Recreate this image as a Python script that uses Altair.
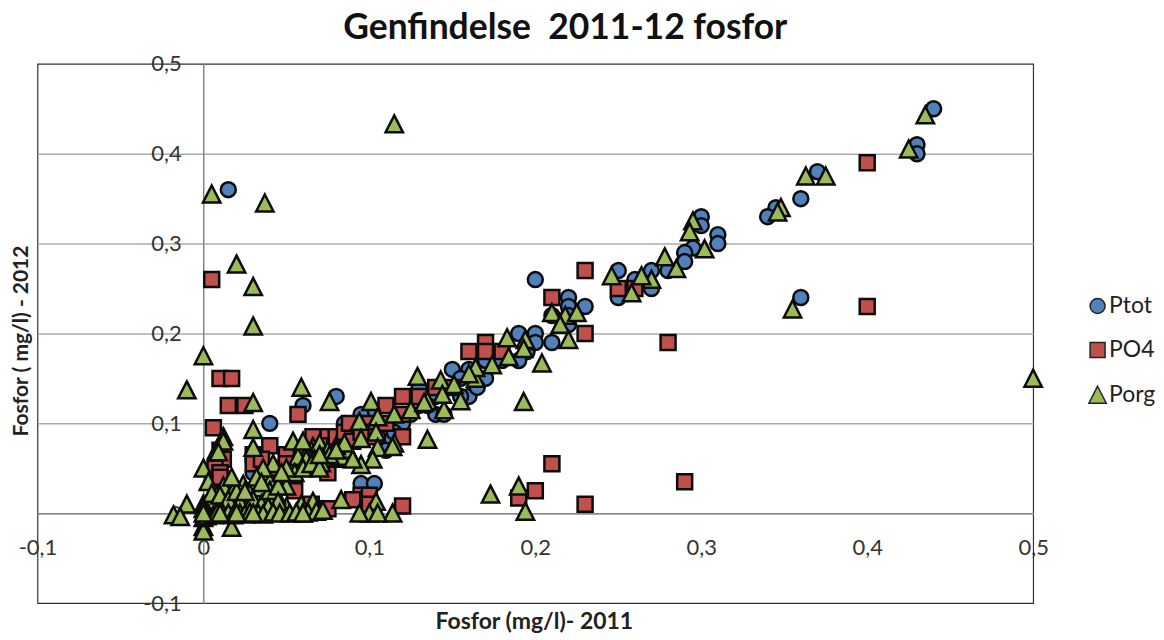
import altair as alt
import pandas as pd

ptot = [(0.44,0.45),(0.43,0.41),(0.43,0.40),(0.37,0.38),(0.36,0.35),(0.345,0.34),(0.34,0.33),(0.36,0.24),
(0.30,0.33),(0.30,0.32),(0.295,0.295),(0.31,0.31),(0.31,0.30),(0.29,0.29),(0.29,0.28),(0.28,0.27),(0.27,0.27),
(0.27,0.25),(0.26,0.25),(0.25,0.27),(0.25,0.24),(0.26,0.26),(0.20,0.26),(0.22,0.24),(0.22,0.23),(0.23,0.23),
(0.21,0.19),(0.22,0.22),(0.22,0.21),(0.21,0.22),(0.20,0.20),(0.19,0.20),(0.195,0.18),(0.19,0.17),(0.20,0.19),
(0.18,0.18),(0.17,0.15),(0.16,0.16),(0.15,0.16),(0.16,0.13),(0.155,0.13),(0.14,0.11),(0.145,0.11),(0.15,0.14),
(0.13,0.14),(0.13,0.12),(0.12,0.09),(0.12,0.10),(0.11,0.08),(0.11,0.07),(0.10,0.11),(0.095,0.11),(0.09,0.10),
(0.085,0.10),(0.08,0.13),(0.06,0.12),(0.04,0.10),(0.015,0.36),(0.095,0.033),(0.103,0.033),(0.03,0.045),
(0.10,0.09),(0.09,0.08),(0.08,0.07),(0.07,0.06),(0.06,0.05),(0.05,0.04),(0.14,0.13),(0.17,0.17),(0.18,0.17),
(0.155,0.15),(0.165,0.14),(0.135,0.12),(0.125,0.11),(0.115,0.09),(0.105,0.085)]

po4 = [(0.40,0.39),(0.40,0.23),(0.005,0.26),(0.23,0.27),(0.21,0.24),(0.23,0.20),(0.25,0.25),(0.26,0.25),
(0.28,0.19),(0.29,0.035),(0.23,0.01),(0.21,0.055),(0.20,0.025),(0.19,0.017),(0.01,0.15),(0.017,0.15),
(0.015,0.12),(0.025,0.12),(0.006,0.095),(0.16,0.18),(0.17,0.19),(0.17,0.18),(0.18,0.18),(0.15,0.14),(0.14,0.14),
(0.13,0.13),(0.12,0.13),(0.12,0.11),(0.11,0.12),(0.11,0.10),(0.12,0.085),(0.10,0.10),(0.09,0.095),(0.095,0.02),
(0.10,0.02),(0.12,0.008),(0.075,0.005),(0.075,0.045),(0.057,0.11),(0.04,0.075),(0.03,0.065),(0.03,0.055),
(0.04,0.05),(0.05,0.065),(0.06,0.07),(0.07,0.085),(0.075,0.085),(0.08,0.085),(0.085,0.09),(0.09,0.08),
(0.05,0.055),(0.06,0.06),(0.035,0.06),(0.01,0.07),(0.012,0.06),(0.007,0.05),(0.01,0.045),(0.01,0.04),
(0.07,0.075),(0.055,0.025),(0.065,0.01),(0.09,0.015),(0.10,0.01),(0.07,0.05),(0.08,0.06),(0.10,0.085),
(0.066,0.085),(0.088,0.1),(0.095,0.09)]

porg = [(0.115,0.433),(0.005,0.355),(0.037,0.345),(0.02,0.277),(0.03,0.252),(0.03,0.208),(0.0,0.175),(-0.01,0.137),
(0.03,0.123),(0.03,0.093),(0.012,0.085),(0.008,0.07),(0.435,0.443),(0.425,0.405),(0.375,0.375),(0.363,0.375),
(0.348,0.34),(0.346,0.335),(0.355,0.227),(0.5,0.15),(0.295,0.325),(0.293,0.313),(0.302,0.294),(0.285,0.272),
(0.278,0.285),(0.27,0.26),(0.264,0.264),(0.258,0.245),(0.246,0.264),(0.21,0.223),(0.218,0.22),(0.225,0.223),
(0.215,0.21),(0.22,0.193),(0.204,0.167),(0.193,0.124),(0.183,0.195),(0.194,0.193),(0.193,0.183),(0.184,0.174),
(0.129,0.152),(0.143,0.148),(0.151,0.143),(0.164,0.15),(0.174,0.165),(0.164,0.162),(0.16,0.155),(0.173,0.021),
(0.19,0.03),(0.194,0.002),(0.135,0.082),(0.145,0.115),(0.125,0.115),(0.135,0.125),(0.144,0.132),(0.155,0.125),
(0.115,0.11),(0.115,0.078),(0.059,0.14),(0.076,0.124),(0.101,0.124),(0.094,0.102),(0.105,0.107),(0.133,0.123),
(0.104,0.09),(0.095,0.083),(0.105,0.073),(0.114,0.074),(0.102,0.06),(0.095,0.054),(0.083,0.063),(0.087,0.071),
(0.083,0.015),(0.104,0.013),(0.10,0.0),(0.094,0.0),(0.114,0.0),(0.105,0.0),(0.054,0.08),(0.066,0.074),
(0.06,0.075),(0.065,0.07),(0.07,0.078),(0.075,0.07),(0.08,0.075),(0.085,0.078),(0.062,0.066),(0.072,0.062),
(0.057,0.063),(0.062,0.06),(0.067,0.06),(0.071,0.056),(0.076,0.065),(0.049,0.045),(0.059,0.01),(0.066,0.013),
(0.06,0.0),(0.05,0.007),(0.0,0.05),(0.003,0.035),(-0.01,0.01),(-0.018,-0.002),(-0.014,-0.004),
(0.012,0.03),(0.008,0.02),(0.004,0.012),(0.018,0.025),(0.024,0.032),(0.028,0.022),(0.034,0.028),(0.04,0.035),
(0.044,0.02),(0.05,0.03),(0.055,0.045),(0.06,0.05),(0.065,0.055),(0.07,0.05),(0.042,0.055),(0.036,0.05),
(0.0,0.01),(0.005,0.022),(0.01,0.02),(0.015,0.015),(0.022,0.012),(0.03,0.015),(0.035,0.01),(0.04,0.025),
(0.045,0.03),(0.05,0.05),(0.06,0.08),(0.07,0.065),(0.08,0.07),(0.09,0.06),(0.02,0.024),(0.017,0.04),(0.032,0.04),
(0.035,0.034),(0.025,0.024),(0.012,0.08),(0.009,0.068),(0.03,0.073),(0.047,0.045),(0.045,0.013),(0.039,0.007),
(0.0,-0.015),(0.0,-0.02),(0.017,-0.016),(0.0,-0.005),(0.0,0.005),(0.002,-0.003),(0.006,-0.002),(0.008,0.0),
(0.012,-0.001),(0.015,0.0),(0.018,-0.002),(0.022,0.0),(0.025,-0.001),(0.028,0.001),(0.033,0.0),(0.036,-0.001),
(0.042,0.001),(0.046,0.0),(0.052,0.0),(0.056,0.001),(0.063,0.001),(0.068,0.002),(0.072,0.003),(0.0,0.0),(0.01,0.0),
(0.02,0.0),(0.03,0.0),(0.06,0.0)]

series_names = ["Ptot", "PO4", "Porg"]
series_values = [ptot, po4, porg]
series_colors = ["#4F81BD", "#C0504D", "#9BBB59"]
tri = "M0,-1.16L1.16,1.1L-1.16,1.1Z"
series_shapes = ["circle", "square", tri]
x_ticks = [-0.1, 0, 0.1, 0.2, 0.3, 0.4, 0.5]
y_ticks = [-0.1, 0, 0.1, 0.2, 0.3, 0.4, 0.5]

rows = []
for name, vals in zip(series_names, series_values):
    for i, (a, b) in enumerate(vals):
        rows.append({"x": a, "y": b, "s": name})
df = pd.DataFrame(rows)

FONT = "Lato"
lab = "replace(toString(datum.value),'.',',')"

chart = alt.Chart(df).mark_point(filled=True, stroke="#0c0c0c", strokeWidth=2.5, opacity=1, size=225).encode(
    x=alt.X("x:Q", scale=alt.Scale(domain=[-0.1, 0.5], nice=False, zero=False, clamp=False),
            axis=alt.Axis(values=x_ticks, labelExpr=lab, offset=-90, grid=False, ticks=False,
                          domainColor="#868686", domainWidth=1.5, labelPadding=24, labelFontSize=22,
                          labelColor="#333333", labelFont=FONT, labelOverlap=False, labelFlush=False,
                          title="Fosfor (mg/l)- 2011", titleFont=FONT, titleFontSize=23, titleFontWeight="bold",
                          titleColor="#222222", titleX=497, titleY=97)),
    y=alt.Y("y:Q", scale=alt.Scale(domain=[-0.1, 0.5], nice=False, zero=False),
            axis=alt.Axis(values=y_ticks, labelExpr=lab, offset=-166, grid=True, gridColor="#ababab", gridWidth=1.5,
                          gridOpacity={"condition": {"test": "datum.value == 0.5 || datum.value == -0.1", "value": 0}, "value": 1},
                          ticks=False, domainColor="#868686", domainWidth=1.5, labelPadding=22, labelFontSize=22,
                          labelColor="#333333", labelFont=FONT, labelOverlap=False, labelFlush=False,
                          title="Fosfor ( mg/l) - 2012", titleFont=FONT, titleFontSize=21, titleFontWeight="bold",
                          titleColor="#222222", titleX=-172, titleY=277)),
    color=alt.Color("s:N", scale=alt.Scale(domain=series_names, range=series_colors),
                    legend=alt.Legend(title=None, orient="none", legendX=1050, legendY=231, rowPadding=20,
                                      labelFont=FONT, labelFontSize=23, labelColor="#222222", symbolSize=225,
                                      symbolStrokeColor="#222222", symbolStrokeWidth=1.5, labelOffset=0)),
    shape=alt.Shape("s:N", scale=alt.Scale(domain=series_names, range=series_shapes), legend=alt.Legend(title=None)),
    order=alt.Order("idx:Q"),
).transform_calculate(
    idx="indexof(['Ptot','PO4','Porg'], datum.s)"
).properties(
    width=997, height=540,
    background="white",
    padding={"left": 29.5, "top": 55.5, "right": 123, "bottom": 34},
    autosize=alt.AutoSizeParams(type="none"),
    title=alt.TitleParams("Genfindelse \u00a02011-12 fosfor", font=FONT, fontSize=35.5, fontWeight="bold",
                          color="#111111", anchor="middle", dx=30, offset=6),
).configure_view(stroke="#333333", strokeWidth=1.2)

chart.save("out.html", embed_options={"renderer": "svg", "actions": False})
